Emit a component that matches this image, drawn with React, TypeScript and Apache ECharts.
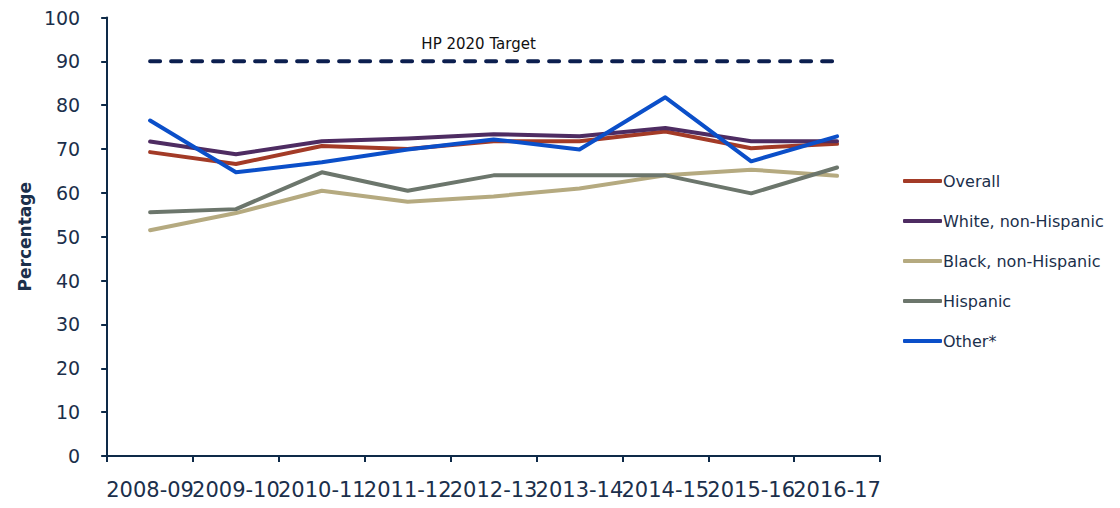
import React, { useEffect, useRef } from "react";
import * as echarts from "echarts";

const categories = ["2008-09", "2009-10", "2010-11", "2011-12", "2012-13", "2013-14", "2014-15", "2015-16", "2016-17"];
const overall = [69.3, 66.6, 70.7, 70.0, 71.8, 71.8, 74.0, 70.2, 71.2];
const white = [71.7, 68.8, 71.8, 72.4, 73.4, 72.9, 74.8, 71.8, 71.8];
const black = [51.5, 55.4, 60.5, 58.0, 59.2, 61.0, 64.0, 65.3, 63.9];
const hispanic = [55.6, 56.3, 64.7, 60.5, 64.0, 64.0, 64.0, 59.9, 65.8];
const other = [76.5, 64.7, 67.0, 69.9, 72.2, 69.9, 81.8, 67.2, 72.9];
const target = [90, 90, 90, 90, 90, 90, 90, 90, 90];
const targetLabel = "HP 2020 Target";
const targetLabelIndex = 4;

const seriesDefs = [
  { name: "Overall", data: overall, color: "#a33b27" },
  { name: "White, non-Hispanic", data: white, color: "#4e2c62" },
  { name: "Black, non-Hispanic", data: black, color: "#b5aa80" },
  { name: "Hispanic", data: hispanic, color: "#6c766c" },
  { name: "Other*", data: other, color: "#0b4fc9" },
];

const FONT = "'DejaVu Sans', sans-serif";
const NAVY = "#0e2a48";
const TEXT = "#1b2f4b";

export default function App() {
  const ref = useRef<HTMLDivElement>(null);
  useEffect(() => {
    if (!ref.current) return;
    const chart = echarts.init(ref.current, null, { renderer: "svg" });
    chart.setOption({
      animation: false,
      textStyle: { fontFamily: FONT },
      grid: { left: 92, right: 232, top: 9, bottom: 35, containLabel: false },
      legend: {
        orient: "vertical",
        left: 890,
        top: 160,
        itemWidth: 39,
        itemHeight: 4,
        itemGap: 24,
        icon: "roundRect",
        data: seriesDefs.map((s) => s.name),
        textStyle: { fontFamily: FONT, fontSize: 16, color: TEXT, padding: [0, 0, 0, -4] },
      },
      xAxis: {
        type: "category",
        data: categories,
        boundaryGap: true,
        axisLine: { show: true, lineStyle: { color: NAVY, width: 2 } },
        axisTick: { show: true, length: 6, lineStyle: { color: NAVY, width: 2 } },
        axisLabel: { interval: 0, color: TEXT, fontFamily: FONT, fontSize: 21, margin: 23 },
        splitLine: { show: false },
      },
      yAxis: {
        type: "value",
        min: 0,
        max: 100,
        interval: 10,
        name: "Percentage",
        nameLocation: "middle",
        nameGap: 73,
        nameRotate: 90,
        nameTextStyle: { fontFamily: FONT, fontSize: 17, fontWeight: "bold", color: TEXT },
        axisLine: { show: true, lineStyle: { color: NAVY, width: 2 } },
        axisTick: { show: true, length: 6, lineStyle: { color: NAVY, width: 2 } },
        axisLabel: { color: TEXT, fontFamily: FONT, fontSize: 19, margin: 27 },
        splitLine: { show: false },
      },
      series: [
        {
          name: "HP 2020 Target",
          type: "line",
          data: target,
          symbol: "none",
          showSymbol: false,
          lineStyle: { color: "#0c1f4f", width: 4, type: [10, 11], cap: "round" },
          itemStyle: { color: "#0c1f4f" },
          z: 1,
          markPoint: {
            symbol: "circle",
            symbolSize: 0,
            data: [
              {
                coord: [targetLabelIndex, target[targetLabelIndex]],
                value: target[targetLabelIndex],
              },
            ],
            label: {
              show: true,
              position: "top",
              distance: 5,
              formatter: targetLabel,
              offset: [-15, -5],
              fontFamily: FONT,
              fontSize: 15,
              color: "#111111",
            },
          },
        },
        ...seriesDefs.map((s) => ({
          name: s.name,
          type: "line",
          data: s.data,
          symbol: "none",
          showSymbol: false,
          lineStyle: { color: s.color, width: 4, cap: "round", join: "round" },
          itemStyle: { color: s.color },
        })),
      ],
    });
    return () => chart.dispose();
  }, []);
  return <div ref={ref} style={{ width: 1104, height: 492 }} />;
}
